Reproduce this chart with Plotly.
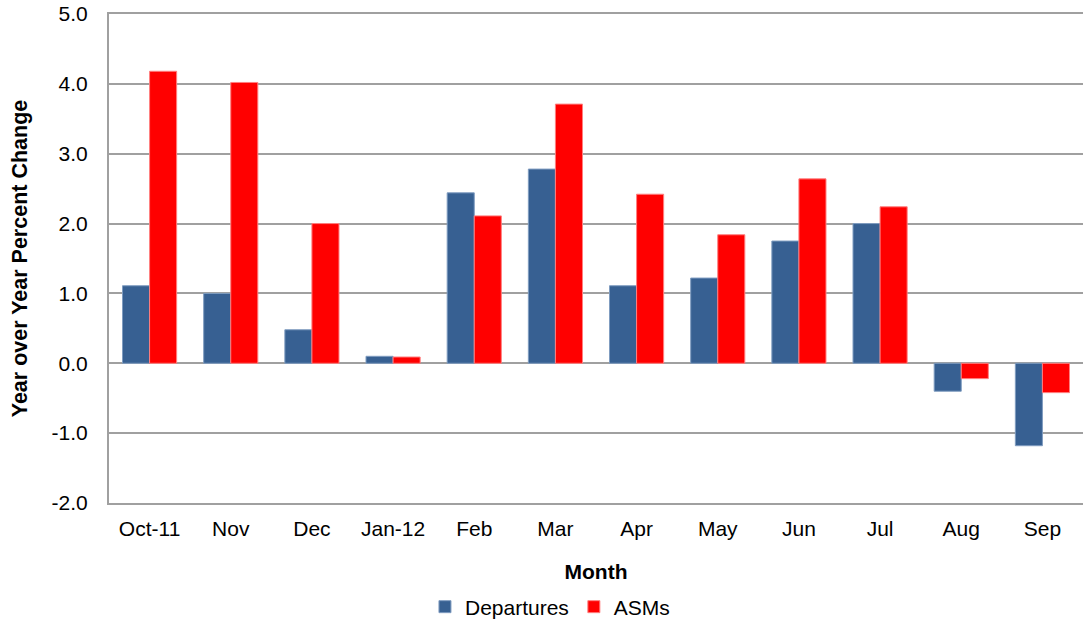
import plotly.graph_objects as go

months = ["Oct-11", "Nov", "Dec", "Jan-12", "Feb", "Mar", "Apr", "May", "Jun", "Jul", "Aug", "Sep"]
departures = [1.11, 1.00, 0.48, 0.10, 2.44, 2.78, 1.11, 1.22, 1.75, 2.00, -0.40, -1.18]
asms = [4.18, 4.02, 2.00, 0.09, 2.11, 3.71, 2.42, 1.84, 2.64, 2.24, -0.22, -0.42]
y_ticks = [-2.0, -1.0, 0.0, 1.0, 2.0, 3.0, 4.0, 5.0]

FONT = "Liberation Sans, Arial, sans-serif"
FS = 21

fig = go.Figure()
fig.add_trace(go.Bar(x=months, y=departures, name="Departures",
                     marker=dict(color="#376092", line=dict(color="#7f9cc0", width=1))))
fig.add_trace(go.Bar(x=months, y=asms, name="ASMs",
                     marker=dict(color="#FF0000", line=dict(color="#ff7f7f", width=1))))

fig.update_layout(
    width=1083, height=622,
    margin=dict(l=109, r=0, t=14, b=119, autoexpand=False),
    paper_bgcolor="white", plot_bgcolor="white",
    barmode="group", bargap=0.333, bargroupgap=0,
    font=dict(family=FONT, size=FS, color="black"),
    showlegend=True,
    legend=dict(orientation="h", x=0.3244, xanchor="left", y=-0.2127, yanchor="middle",
                font=dict(family=FONT, size=FS), itemwidth=30, tracegroupgap=0,
                bgcolor="rgba(0,0,0,0)"),
    xaxis=dict(
        automargin=False,
        range=[-0.5, 11.5], showgrid=False, showline=True, mirror=True,
        linecolor="#a0a0a0", linewidth=2,
        ticks="", tickfont=dict(family=FONT, size=FS), ticklabelstandoff=6,
        title=dict(text="<b>Month</b>", font=dict(family=FONT, size=FS), standoff=25),
        zeroline=False,
    ),
    yaxis=dict(
        automargin=False, ticklabeloverflow="allow",
        range=[-2.0, 5.0], tickvals=y_ticks, ticktext=[f"{v:.1f}" for v in y_ticks],
        showgrid=True, gridcolor="#a0a0a0", gridwidth=2,
        showline=True, linecolor="#a0a0a0", linewidth=2,
        zeroline=True, zerolinecolor="#a0a0a0", zerolinewidth=2,
        ticks="", tickfont=dict(family=FONT, size=FS), ticklabelstandoff=15,
        title=dict(text="<b>Year over Year Percent Change</b>", font=dict(family=FONT, size=21.5), standoff=18),
    ),
)

# remove the page's default 8px body margin so the figure sits at the window's corner
fig.write_html("out.html", config={"displayModeBar": False},
               post_script="document.body.style.margin='0px';")
